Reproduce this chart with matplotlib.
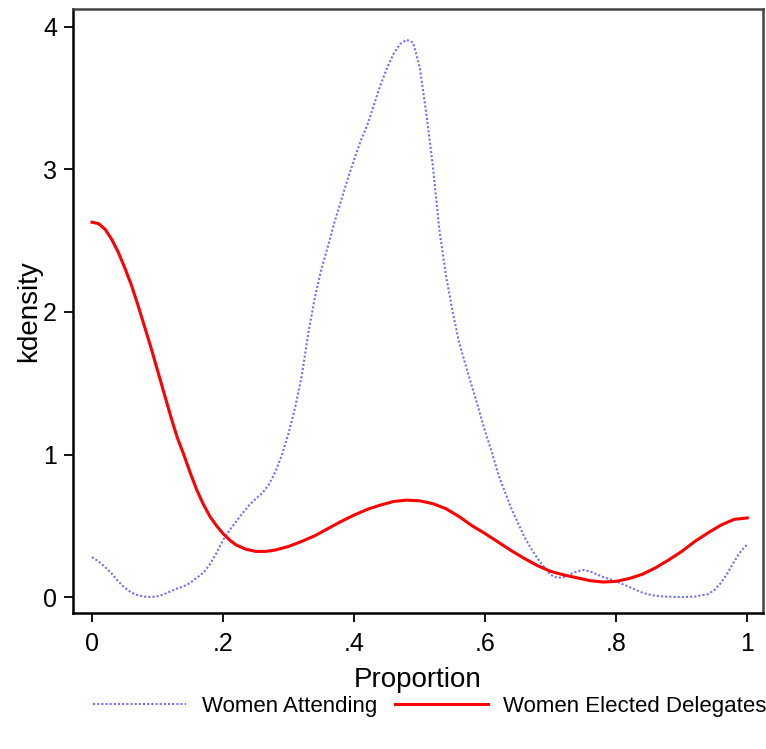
import numpy as np
import matplotlib
matplotlib.use("Agg")
import matplotlib.pyplot as plt

plt.rcParams['font.family'] = ['Liberation Sans', 'DejaVu Sans']

# kdensity: Women Elected Delegates
x_eleitas = [0.000, 0.010, 0.020, 0.030, 0.040, 0.050, 0.060, 0.070, 0.080, 0.090,
             0.100, 0.110, 0.120, 0.130, 0.140, 0.150, 0.160, 0.170, 0.180, 0.190,
             0.200, 0.210, 0.220, 0.235, 0.250, 0.265, 0.280, 0.300, 0.320, 0.340,
             0.360, 0.380, 0.400, 0.420, 0.440, 0.460, 0.480, 0.500, 0.520, 0.540,
             0.560, 0.580, 0.600, 0.620, 0.640, 0.660, 0.680, 0.700, 0.720, 0.740,
             0.760, 0.780, 0.800, 0.820, 0.840, 0.860, 0.880, 0.900, 0.920, 0.940,
             0.960, 0.980, 1.000]
y_eleitas = [2.63, 2.62, 2.58, 2.51, 2.42, 2.31, 2.19, 2.05, 1.90, 1.75,
             1.59, 1.43, 1.27, 1.12, 1.00, 0.87, 0.75, 0.65, 0.565, 0.50,
             0.445, 0.40, 0.365, 0.335, 0.32, 0.32, 0.33, 0.355, 0.39, 0.43,
             0.48, 0.53, 0.575, 0.615, 0.645, 0.67, 0.68, 0.675, 0.655, 0.62,
             0.565, 0.50, 0.445, 0.385, 0.325, 0.27, 0.22, 0.18, 0.155, 0.135,
             0.115, 0.105, 0.11, 0.13, 0.16, 0.205, 0.26, 0.32, 0.39, 0.45,
             0.505, 0.545, 0.555]

# kdensity: Women Attending
x_presentes = [0.000, 0.010, 0.020, 0.030, 0.040, 0.050, 0.060, 0.070, 0.080, 0.090,
               0.100, 0.110, 0.120, 0.130, 0.140, 0.150, 0.160, 0.170, 0.180, 0.190,
               0.200, 0.210, 0.220, 0.230, 0.240, 0.250, 0.260, 0.270, 0.280, 0.290,
               0.300, 0.310, 0.320, 0.330, 0.340, 0.350, 0.360, 0.370, 0.380, 0.390,
               0.400, 0.410, 0.420, 0.430, 0.440, 0.450, 0.460, 0.470, 0.480, 0.490,
               0.500, 0.510, 0.520, 0.530, 0.540, 0.550, 0.560, 0.570, 0.580, 0.590,
               0.600, 0.610, 0.620, 0.630, 0.640, 0.650, 0.660, 0.670, 0.680, 0.690,
               0.700, 0.710, 0.720, 0.730, 0.740, 0.750, 0.760, 0.770, 0.780, 0.790,
               0.800, 0.810, 0.820, 0.830, 0.840, 0.850, 0.860, 0.880, 0.900, 0.920,
               0.940, 0.950, 0.960, 0.970, 0.980, 0.990, 1.000]
y_presentes = [0.28, 0.25, 0.21, 0.165, 0.11, 0.065, 0.032, 0.012, 0.003, 0.0,
               0.005, 0.02, 0.04, 0.06, 0.075, 0.10, 0.135, 0.17, 0.23, 0.31,
               0.40, 0.47, 0.53, 0.59, 0.645, 0.69, 0.73, 0.79, 0.88, 1.00,
               1.15, 1.33, 1.55, 1.85, 2.10, 2.30, 2.46, 2.63, 2.78, 2.93,
               3.07, 3.20, 3.31, 3.45, 3.59, 3.71, 3.81, 3.88, 3.91, 3.89,
               3.72, 3.40, 3.03, 2.58, 2.26, 2.01, 1.79, 1.63, 1.475, 1.32,
               1.16, 1.02, 0.86, 0.74, 0.62, 0.52, 0.42, 0.34, 0.27, 0.21,
               0.155, 0.135, 0.14, 0.16, 0.18, 0.19, 0.18, 0.16, 0.14, 0.125,
               0.11, 0.09, 0.07, 0.05, 0.03, 0.018, 0.008, 0.002, 0.0, 0.003,
               0.02, 0.05, 0.10, 0.17, 0.25, 0.32, 0.37]

xticks = [0, 0.2, 0.4, 0.6, 0.8, 1.0]
xtick_labels = ['0', '.2', '.4', '.6', '.8', '1']
yticks = [0, 1, 2, 3, 4]

fig = plt.figure(figsize=(7.66, 7.49), dpi=100)
ax = fig.add_axes([0.0953, 0.1816, 0.9008, 0.8064])

ax.plot(x_presentes, y_presentes, color='#6e6eff', lw=1.5, linestyle=(0, (1, 1)),
        label='Women Attending')
ax.plot(x_eleitas, y_eleitas, color='#ff0000', lw=2.2, label='Women Elected Delegates')

ax.set_xlim(-0.029, 1.024)
ax.set_ylim(-0.112, 4.126)
ax.set_xticks(xticks)
ax.set_xticklabels(xtick_labels)
ax.set_yticks(yticks)
ax.tick_params(direction='out', length=6.5, width=1.3, labelsize=18, pad=5)
ax.tick_params(axis='x', pad=7)

for lado in ['left', 'bottom']:
    ax.spines[lado].set_linewidth(1.8)
    ax.spines[lado].set_color('black')
for lado in ['top', 'right']:
    ax.spines[lado].set_linewidth(1.8)
    ax.spines[lado].set_color('#444444')

ax.set_xlabel('Proportion', fontsize=20, labelpad=8)
ax.set_ylabel('kdensity', fontsize=20, labelpad=1)

fig.legend(loc='center', bbox_to_anchor=(0.561, 0.0574), ncol=2, frameon=False,
           fontsize=16, handlelength=4.2, handletextpad=0.7, columnspacing=0.8)

plt.savefig('out.png', dpi=100)
